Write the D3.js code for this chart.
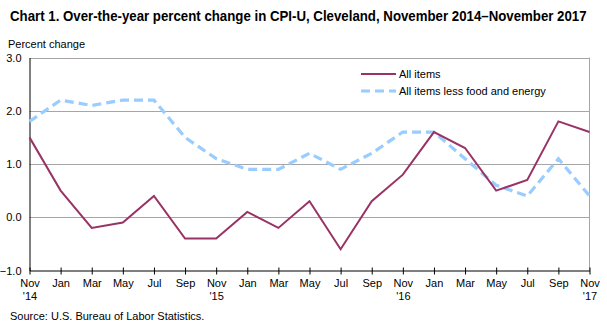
<!DOCTYPE html>
<html>
<head>
<meta charset="utf-8">
<script src="https://cdn.jsdelivr.net/npm/d3@7"></script>
<style>
  body { margin: 0; background: #fff; }
  svg { display: block; font-family: "Liberation Sans", Arial, sans-serif; }
</style>
</head>
<body>
<svg id="chart" width="607" height="326"></svg>
<script>
/* CPI-U Cleveland, variação anual, bimestral nov/2014–nov/2017 */

const meses = ["Nov", "Jan", "Mar", "May", "Jul", "Sep", "Nov", "Jan", "Mar", "May",
  "Jul", "Sep", "Nov", "Jan", "Mar", "May", "Jul", "Sep", "Nov"];
const anos = ["'14", "", "", "", "", "", "'15", "", "", "", "", "", "'16", "", "", "", "", "", "'17"];
const todosItens = [1.5, 0.5, -0.2, -0.1, 0.4, -0.4, -0.4, 0.1, -0.2, 0.3,
  -0.6, 0.3, 0.8, 1.6, 1.3, 0.5, 0.7, 1.8, 1.6];
const nucleo = [1.8, 2.2, 2.1, 2.2, 2.2, 1.5, 1.1, 0.9, 0.9, 1.2,
  0.9, 1.2, 1.6, 1.6, 1.1, 0.6, 0.4, 1.1, 0.4];
const yTicks = [-1, 0, 1, 2, 3];

const COR_TODOS = "#993366", COR_NUCLEO = "#99ccff", GRADE = "#a6a6a6";
const M = { l: 29.5, r: 589.5, t: 57.5, b: 270.5 };

const svg = d3.select("#chart");
const idx = d3.range(meses.length);
const x = d3.scaleLinear().domain([0, meses.length - 1]).range([M.l, M.r]);
const y = d3.scaleLinear().domain([-1, 3]).range([M.b, M.t]);

// título: fonte normal, comprimida horizontalmente para caber como no original
const titulo = svg.append("text")
  .attr("x", 0).attr("y", 0)
  .style("font", "bold 14px 'Liberation Sans', Arial, sans-serif")
  .text("Chart 1. Over-the-year percent change in CPI-U, Cleveland, November 2014–November 2017");
const larg = titulo.node().getComputedTextLength();
titulo.attr("transform", `translate(10,21) scale(${Math.min(1, 577 / larg)},1)`);

svg.append("text").attr("x", 8).attr("y", 48)
  .style("font-size", "11px").text("Percent change");

// grade horizontal
svg.append("g").selectAll("line")
  .data(yTicks.filter((d) => d > -1)).join("line")
  .attr("x1", M.l).attr("x2", M.r)
  .attr("y1", (d) => Math.round(y(d)) + 0.5).attr("y2", (d) => Math.round(y(d)) + 0.5)
  .attr("stroke", GRADE);
svg.append("line").attr("x1", M.r).attr("x2", M.r)
  .attr("y1", M.t).attr("y2", M.b).attr("stroke", GRADE);

// eixo y
const gy = svg.append("g").attr("transform", `translate(${M.l},0)`)
  .call(d3.axisLeft(y).tickValues(yTicks).tickFormat(d3.format(".1f")).tickSize(0).tickPadding(8));
gy.select(".domain").attr("stroke", "#000");
gy.selectAll("text").style("font-size", "11px").attr("fill", "#000")
  .attr("font-family", "'Liberation Sans', Arial, sans-serif");

// eixo x
const gx = svg.append("g").attr("transform", `translate(0,${M.b})`)
  .call(d3.axisBottom(x).tickValues(idx).tickFormat((i) => meses[i]).tickSizeInner(4).tickSizeOuter(0).tickPadding(5));
gx.select(".domain").attr("stroke", "#000");
gx.selectAll(".tick line").attr("stroke", "#000").attr("y1", -3).attr("y2", 4);
gx.selectAll("text").style("font-size", "11px").attr("fill", "#000")
  .attr("font-family", "'Liberation Sans', Arial, sans-serif");
gx.selectAll(".tick").filter((i) => anos[i]).append("text")
  .attr("y", 29.5).attr("fill", "#000").attr("text-anchor", "middle")
  .style("font-size", "11px")
  .text((i) => anos[i]);

// séries
const linha = (vals) => d3.line().x((i) => x(i)).y((i) => y(vals[i]))(idx);
svg.append("path").attr("d", linha(nucleo))
  .attr("fill", "none").attr("stroke", COR_NUCLEO)
  .attr("stroke-width", 3.2).attr("stroke-dasharray", "9,5");
svg.append("path").attr("d", linha(todosItens))
  .attr("fill", "none").attr("stroke", COR_TODOS).attr("stroke-width", 2);

// legenda
const leg = [
  { nome: "All items", cor: COR_TODOS, w: 2, dash: null },
  { nome: "All items less food and energy", cor: COR_NUCLEO, w: 3.2, dash: "9,5" },
];
const gl = svg.append("g").selectAll("g").data(leg).join("g")
  .attr("transform", (d, i) => `translate(361,${74 + i * 17})`);
gl.append("line").attr("x1", 0).attr("x2", 35)
  .attr("stroke", (d) => d.cor).attr("stroke-width", (d) => d.w)
  .attr("stroke-dasharray", (d) => d.dash);
gl.append("text").attr("x", 38).attr("dy", "0.35em")
  .style("font-size", "11px").text((d) => d.nome);

svg.append("text").attr("x", 10).attr("y", 320)
  .style("font-size", "11px").text("Source: U.S. Bureau of Labor Statistics.");
</script>
</body>
</html>
